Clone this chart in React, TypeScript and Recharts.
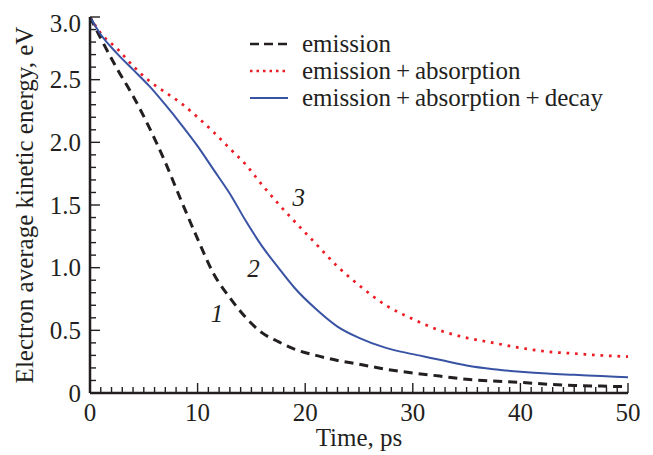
import React from "react";
import { LineChart, Line, XAxis, YAxis, Legend, ReferenceDot } from "recharts";

// time grid, ps
const times = [0, 1, 2.5, 4, 5.5, 7, 8.5, 10, 11.5, 13, 14.5, 16, 17.5, 19, 21, 23, 25, 27.5, 30, 32.5, 35, 37.5, 40, 42.5, 45, 47.5, 50];
// average kinetic energy, eV
const emission = [3.0, 2.83, 2.59, 2.37, 2.12, 1.84, 1.53, 1.23, 0.95, 0.76, 0.6, 0.48, 0.41, 0.35, 0.3, 0.26, 0.23, 0.19, 0.16, 0.135, 0.11, 0.095, 0.085, 0.07, 0.06, 0.055, 0.05];
const absorption = [3.0, 2.87, 2.75, 2.61, 2.49, 2.4, 2.31, 2.2, 2.08, 1.95, 1.82, 1.66, 1.51, 1.37, 1.19, 1.01, 0.86, 0.7, 0.59, 0.5, 0.44, 0.4, 0.36, 0.33, 0.315, 0.3, 0.29];
const decay = [3.0, 2.86, 2.71, 2.58, 2.45, 2.3, 2.14, 1.97, 1.78, 1.59, 1.37, 1.17, 1.0, 0.84, 0.67, 0.53, 0.44, 0.36, 0.31, 0.265, 0.22, 0.19, 0.17, 0.155, 0.145, 0.135, 0.125];

const xMajor = [0, 10, 20, 30, 40, 50];
const yMajor = [0, 0.5, 1, 1.5, 2, 2.5, 3];
const xMinor = Array.from({ length: 51 }, (_, i) => i);
const yMinor = Array.from({ length: 31 }, (_, i) => i / 10);

// curve numbers: position in data units
const curveLabels = [
  { text: "1", t: 11.8, e: 0.64 },
  { text: "2", t: 15.2, e: 1.0 },
  { text: "3", t: 19.4, e: 1.56 },
];

const INK = "#231f20";
const FONT = "'Liberation Serif', 'Times New Roman', serif";

const series = [
  { key: "emission", name: "emission", color: INK, width: 3, dash: "9 6", legendDash: "9 5" },
  { key: "absorption", name: "emission\u2009+\u2009absorption", color: "#ed1c24", width: 2.7, dash: "2.7 5.8", legendDash: "2.5 4" },
  { key: "decay", name: "emission\u2009+\u2009absorption\u2009+\u2009decay", color: "#3953a4", width: 2, dash: undefined, legendDash: undefined },
];

const rows = times.map((t, i) => ({ t, emission: emission[i], absorption: absorption[i], decay: decay[i] }));

const isMajorY = (v: number) => yMajor.some((m) => Math.abs(m - v) < 1e-6);

function BottomTick({ x, y, payload }: any) {
  const major = xMajor.includes(payload.value);
  return (
    <g>
      <line x1={x} x2={x} y1={y} y2={y - (major ? 10 : 6)} stroke={INK} strokeWidth={1.4} />
      {major && (
        <text x={x} y={y + 28} textAnchor="middle" fontSize={25} fontFamily={FONT} fill={INK}>
          {payload.value}
        </text>
      )}
    </g>
  );
}

function TopTick({ x, y, payload }: any) {
  const major = xMajor.includes(payload.value);
  return <line x1={x} x2={x} y1={y} y2={y + (major ? 10 : 6)} stroke={INK} strokeWidth={1.4} />;
}

function LeftTick({ x, y, payload }: any) {
  const v = payload.value;
  const major = isMajorY(v);
  // top label sits a bit lower in the original
  const dy = v > 2.95 ? 15 : 8.5;
  return (
    <g>
      <line x1={x} x2={x + (major ? 10 : 6)} y1={y} y2={y} stroke={INK} strokeWidth={1.4} />
      {major && (
        <text x={x - 9} y={y + dy} textAnchor="end" fontSize={25} fontFamily={FONT} fill={INK}>
          {v === 0 ? "0" : v.toFixed(1)}
        </text>
      )}
    </g>
  );
}

function RightTick({ x, y, payload }: any) {
  const major = isMajorY(payload.value);
  return <line x1={x} x2={x - (major ? 10 : 6)} y1={y} y2={y} stroke={INK} strokeWidth={1.4} />;
}

function XTitle({ viewBox }: any) {
  return (
    <text x={viewBox.x + viewBox.width / 2} y={viewBox.y + 53} textAnchor="middle" fontSize={25} fontFamily={FONT} fill={INK}>
      Time, ps
    </text>
  );
}

function YTitle({ viewBox }: any) {
  const cy = viewBox.y + viewBox.height / 2;
  return (
    <text transform={`translate(33, ${cy}) rotate(-90)`} textAnchor="middle" fontSize={25} fontFamily={FONT} fill={INK}>
      Electron average kinetic energy, eV
    </text>
  );
}

function LegendBox() {
  return (
    <div style={{ fontFamily: FONT, fontSize: 25, color: INK }}>
      {series.map((s) => (
        <div key={s.key} style={{ display: "flex", alignItems: "center", height: 27, whiteSpace: "nowrap" }}>
          <svg width={42} height={27}>
            <line x1={2} x2={40} y1={14} y2={14} stroke={s.color} strokeWidth={s.key === "decay" ? 2 : 2.4} strokeDasharray={s.legendDash} />
          </svg>
          <span style={{ marginLeft: 12, lineHeight: "27px" }}>{s.name}</span>
        </div>
      ))}
    </div>
  );
}

const axisLine = { stroke: INK, strokeWidth: 2.5 };

export default function App() {
  return (
    <div style={{ width: 653, height: 455, background: "#fff" }}>
      <style>{"body{margin:0}"}</style>
      <LineChart width={653} height={455} data={rows} margin={{ top: 17, right: 25, bottom: 0, left: 0 }}>
        <XAxis
          xAxisId="x"
          dataKey="t"
          type="number"
          domain={[0, 50]}
          ticks={xMinor}
          interval={0}
          height={62}
          tickSize={0}
          tickMargin={0}
          tickLine={false}
          tick={(p: any) => <BottomTick {...p} />}
          axisLine={axisLine}
          label={{ content: (p: any) => <XTitle {...p} /> }}
        />
        <XAxis
          xAxisId="top"
          dataKey="t"
          orientation="top"
          type="number"
          domain={[0, 50]}
          allowDataOverflow
          ticks={xMinor}
          interval={0}
          height={0}
          tickSize={0}
          tickMargin={0}
          tickLine={false}
          tick={(p: any) => <TopTick {...p} />}
          axisLine={axisLine}
        />
        <YAxis
          yAxisId="y"
          type="number"
          domain={[0, 3]}
          allowDataOverflow
          ticks={yMinor}
          interval={0}
          width={90}
          tickSize={0}
          tickMargin={0}
          tickLine={false}
          tick={(p: any) => <LeftTick {...p} />}
          axisLine={axisLine}
          label={{ content: (p: any) => <YTitle {...p} /> }}
        />
        <YAxis
          yAxisId="right"
          orientation="right"
          type="number"
          domain={[0, 3]}
          allowDataOverflow
          ticks={yMinor}
          interval={0}
          width={0}
          tickSize={0}
          tickMargin={0}
          tickLine={false}
          tick={(p: any) => <RightTick {...p} />}
          axisLine={axisLine}
        />
        {series.map((s) => (
          <Line
            key={s.key}
            xAxisId="x"
            yAxisId="y"
            type="monotone"
            dataKey={s.key}
            name={s.name}
            stroke={s.color}
            strokeWidth={s.width}
            strokeDasharray={s.dash}
            dot={false}
            activeDot={false}
            isAnimationActive={false}
          />
        ))}
        {curveLabels.map((c) => (
          <ReferenceDot
            key={c.text}
            xAxisId="x"
            yAxisId="y"
            x={c.t}
            y={c.e}
            r={0}
            fill="none"
            stroke="none"
            label={{ value: c.text, position: "center", fontSize: 25, fontFamily: FONT, fontStyle: "italic", fill: INK }}
          />
        ))}
        <Legend
          layout="vertical"
          align="center"
          verticalAlign="middle"
          content={() => <LegendBox />}
          wrapperStyle={{ left: 248, top: 30, width: 380 }}
        />
      </LineChart>
    </div>
  );
}
